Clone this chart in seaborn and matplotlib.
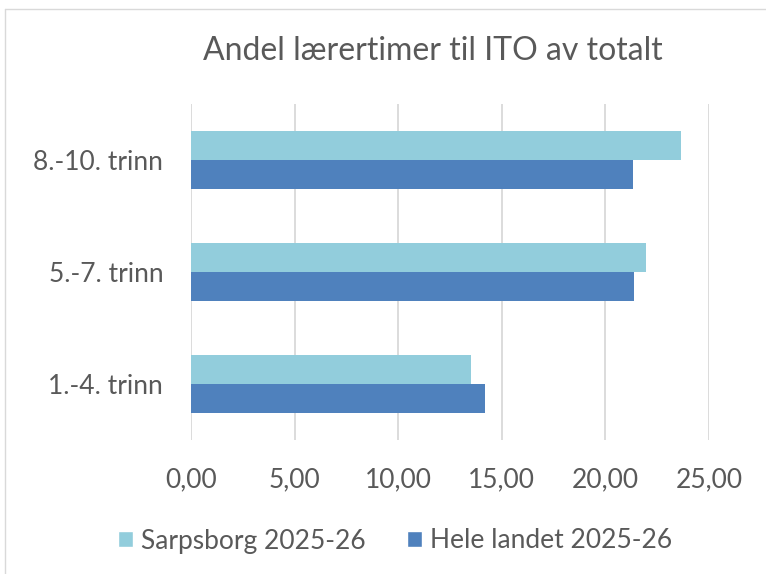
import matplotlib
matplotlib.use("Agg")
import matplotlib.pyplot as plt
import seaborn as sns
import pandas as pd
from matplotlib.lines import Line2D
from matplotlib.patches import Patch

categories = ["8.-10. trinn", "5.-7. trinn", "1.-4. trinn"]
series_names = ["Sarpsborg 2025-26", "Hele landet 2025-26"]
sarpsborg = [23.65, 21.95, 13.52]
hele_landet = [21.35, 21.40, 14.20]
x_ticks = [0, 5, 10, 15, 20, 25]
x_tick_labels = ["0,00", "5,00", "10,00", "15,00", "20,00", "25,00"]
title = "Andel lærertimer til ITO av totalt"

colors = ["#92CDDC", "#4F81BD"]
text_color = "#595959"
grid_color = "#D9D9D9"

df = pd.DataFrame({
    "kategori": categories * 2,
    "serie": [series_names[0]] * 3 + [series_names[1]] * 3,
    "verdi": sarpsborg + hele_landet,
})

sns.set_theme(style="white")
plt.rcParams["font.family"] = ["Lato", "DejaVu Sans"]

fig = plt.figure(figsize=(7.66, 5.74), dpi=100)
ax = fig.add_axes([191 / 766, 1 - 440 / 574, (709 - 191) / 766, (440 - 104) / 574])

sns.barplot(data=df, y="kategori", x="verdi", hue="serie", order=categories,
            hue_order=series_names, palette=colors, orient="h", width=0.52,
            saturation=1, ax=ax, legend=False, linewidth=0)

ax.set_xlim(0, 25)
ax.set_ylim(2.5, -0.5)
ax.set_xticks(x_ticks)
ax.set_xticklabels(x_tick_labels)
ax.set_xlabel("")
ax.set_ylabel("")
for s in ax.spines.values():
    s.set_visible(False)
ax.grid(axis="x", color=grid_color, linewidth=1.3)
ax.grid(axis="y", visible=False)
ax.set_axisbelow(True)
ax.tick_params(axis="both", length=0, labelsize=19, colors=text_color)
ax.tick_params(axis="x", pad=20)
ax.tick_params(axis="y", pad=20)

fig.text(433 / 766, 1 - 51 / 574, title, ha="center", va="center",
         fontsize=23, color=text_color)

handles = [Patch(facecolor=colors[0]), Patch(facecolor=colors[1])]
fig.legend(handles, series_names, loc="center", bbox_to_anchor=(395 / 766, 1 - 541 / 574),
           ncol=2, frameon=False, fontsize=19, labelcolor=text_color,
           handlelength=0.55, handleheight=0.55, handletextpad=0.3, columnspacing=1.6)

# chart-area border (top and left visible)
fig.add_artist(Line2D([5 / 766, 1.0], [1 - 9 / 574, 1 - 9 / 574], transform=fig.transFigure,
                      color=grid_color, linewidth=1))
fig.add_artist(Line2D([5 / 766, 5 / 766], [0, 1 - 9 / 574], transform=fig.transFigure,
                      color=grid_color, linewidth=1))

fig.savefig("out.png", dpi=100, facecolor="white")
